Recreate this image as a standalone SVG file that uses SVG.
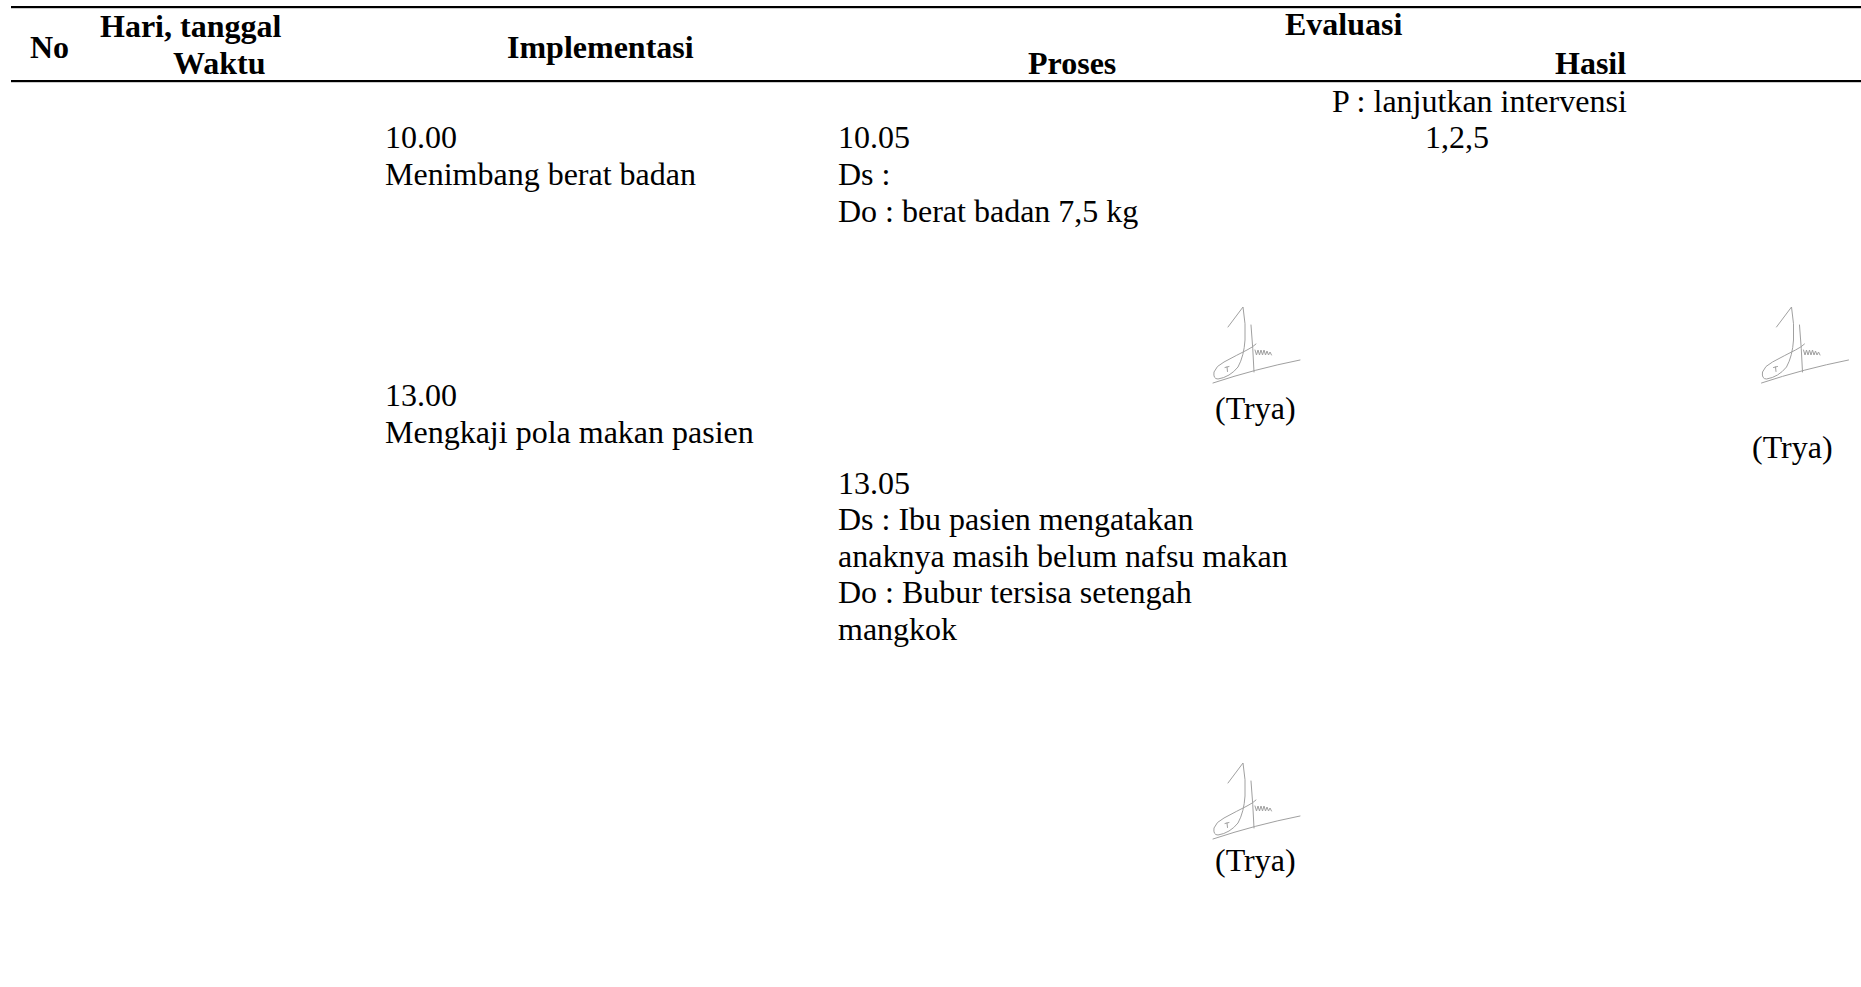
<svg xmlns="http://www.w3.org/2000/svg" width="1861" height="987" viewBox="0 0 1861 987">
  <style>
    text { font-family: "Liberation Serif", "Times New Roman", serif; font-size: 32px; fill: #000; }
    .hd { font-weight: bold; }
    .rule { fill: #000; }
    .sig { fill: none; stroke: #a0a0a0; stroke-width: 1; stroke-linecap: round; stroke-linejoin: round; }
  </style>
  <defs>
    <!-- handwritten paraf, drawn once and reused -->
    <symbol id="paraf" overflow="visible">
      <g class="sig">
        <path d="M48,37 L63,17 Q66,34 65,50 Q64,66 58,77 Q50,87 38,89 Q33,89 34,82 Q36,76 44,72 Q57,65 67,60 Q73,57 76,54"/>
        <path d="M71,35 Q73,58 74,82"/>
        <path d="M75,60 l1.5,5 l1.5,-5 l1.5,5 l1.5,-5 l1.5,5 l1.5,-5 l1.5,5 l1.5,-4 l1.5,4 l1.5,-3 l1.5,3"/>
        <path d="M33,93 Q75,79 120,70"/>
        <path d="M45,77.5 L49,76.5 M47,77 L47.5,81.5"/>
      </g>
    </symbol>
  </defs>

  <!-- table rules -->
  <g id="rules">
    <rect class="rule" x="11" y="6" width="1850" height="2.2"/>
    <rect class="rule" x="11" y="80" width="1850" height="2.2"/>
  </g>

  <!-- header row -->
  <g id="header">
    <text class="hd" x="30" y="58">No</text>
    <text class="hd" x="100" y="37">Hari, tanggal</text>
    <text class="hd" x="173" y="74">Waktu</text>
    <text class="hd" x="507" y="58">Implementasi</text>
    <text class="hd" x="1285" y="35">Evaluasi</text>
    <text class="hd" x="1028" y="74">Proses</text>
    <text class="hd" x="1555" y="74">Hasil</text>
  </g>

  <!-- Hasil column -->
  <g id="hasil">
    <text x="1332" y="112">P : lanjutkan intervensi</text>
    <text x="1425" y="148">1,2,5</text>
    <use href="#paraf" x="1728.5" y="290"/>
    <text x="1752" y="458">(Trya)</text>
  </g>

  <!-- Implementasi column -->
  <g id="impl-1000">
    <text x="385" y="148">10.00</text>
    <text x="385" y="185">Menimbang berat badan</text>
  </g>
  <g id="impl-1300">
    <text x="385" y="406">13.00</text>
    <text x="385" y="443">Mengkaji pola makan pasien</text>
  </g>

  <!-- Proses column -->
  <g id="proses-1005">
    <text x="838" y="148">10.05</text>
    <text x="838" y="185">Ds :</text>
    <text x="838" y="222">Do : berat badan 7,5 kg</text>
    <use href="#paraf" x="1180" y="290"/>
    <text x="1215" y="419">(Trya)</text>
  </g>
  <g id="proses-1305">
    <text x="838" y="493.5">13.05</text>
    <text x="838" y="530">Ds : Ibu pasien mengatakan</text>
    <text x="838" y="566.5">anaknya masih belum nafsu makan</text>
    <text x="838" y="603">Do : Bubur tersisa setengah</text>
    <text x="838" y="639.5">mangkok</text>
    <use href="#paraf" x="1180" y="746"/>
    <text x="1215" y="871">(Trya)</text>
  </g>
</svg>
